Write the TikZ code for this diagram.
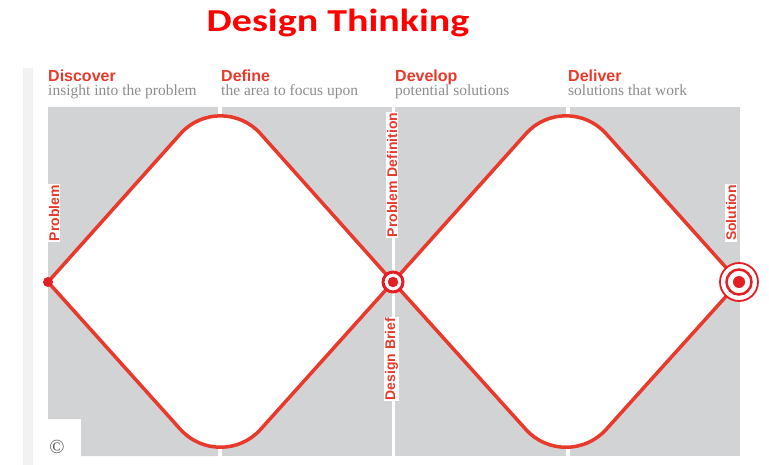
\documentclass[tikz,border=0pt]{standalone}
\usepackage{fontspec}
\setmainfont{Liberation Serif}
\setsansfont{Liberation Sans}
\newfontfamily\titlefont{Carlito}
\usetikzlibrary{calc}
\definecolor{dtred}{HTML}{E8392B}
\definecolor{dotred}{HTML}{E31E24}
\definecolor{panelgray}{HTML}{D1D3D4}
\definecolor{subgray}{HTML}{8C8C8C}
\definecolor{stripgray}{HTML}{F2F2F2}
\definecolor{copygray}{HTML}{555555}
\begin{document}
\begin{tikzpicture}[x=1pt,y=-1pt,
  panel/.style={fill=panelgray, draw=none},
  diam/.style={draw=dtred, line width=3.5pt, fill=white, line join=miter},
  phase/.style={anchor=base west, inner sep=0pt, text depth=0pt, text=dtred, font=\sffamily\bfseries\fontsize{16}{16}\selectfont},
  sub/.style={anchor=base west, inner sep=0pt, text height=10pt, text=subgray, font=\fontsize{15.5}{15.5}\selectfont},
  vlabel/.style={rotate=90, fill=white, text=dtred, inner sep=1.2pt, font=\sffamily\bfseries\fontsize{14}{14}\selectfont},
  dotnode/.style={circle, fill=dotred, inner sep=0pt, draw=none},
  ringnode/.style={circle, draw=dotred, fill=white, inner sep=0pt},
]
\useasboundingbox (0,0) rectangle (769,465);
% background strip and panels
\fill[stripgray] (23,68) rectangle (33,465);
\fill[panel] (48,107) -- (218,107) -- (218,456) -- (81,456) -- (81,419) -- (48,419) -- cycle;
\fill[panel] (222,107) rectangle (391.5,456);
\fill[panel] (394.5,107) rectangle (565.5,456);
\fill[panel] (569.5,107) rectangle (740,456);
% diamond corners
\coordinate (L1) at (48,282);
\coordinate (T1) at (220.5,89);
\coordinate (R1) at (393,282);
\coordinate (B1) at (220.5,474);
\coordinate (T2) at (566,89);
\coordinate (R2) at (739,282);
\coordinate (B2) at (566,474);
\draw[diam] (L1) -- ($(T1)!60pt!(L1)$) .. controls ($(T1)!28pt!(L1)$) and ($(T1)!28pt!(R1)$) .. ($(T1)!60pt!(R1)$) -- (R1)
  -- ($(B1)!60pt!(R1)$) .. controls ($(B1)!28pt!(R1)$) and ($(B1)!28pt!(L1)$) .. ($(B1)!60pt!(L1)$) -- cycle;
\draw[diam] (R1) -- ($(T2)!60pt!(R1)$) .. controls ($(T2)!28pt!(R1)$) and ($(T2)!28pt!(R2)$) .. ($(T2)!60pt!(R2)$) -- (R2)
  -- ($(B2)!60pt!(R2)$) .. controls ($(B2)!28pt!(R2)$) and ($(B2)!28pt!(R1)$) .. ($(B2)!60pt!(R1)$) -- cycle;
% markers
\node[dotnode, minimum size=10pt] (start) at (L1) {};
\node[ringnode, line width=3pt, minimum size=20pt] (midring) at (R1) {};
\node[dotnode, minimum size=10.5pt] (middot) at (R1) {};
\node[ringnode, line width=1.8pt, minimum size=38pt] (endouter) at (R2) {};
\node[ringnode, line width=2.5pt, minimum size=25pt] (endinner) at (R2) {};
\node[dotnode, minimum size=12pt] (enddot) at (R2) {};
% vertical labels
\node[vlabel] (problem) at (54,213) {Problem};
\node[vlabel] (probdef) at (392,175) {Problem Definition};
\node[vlabel] (brief) at (391.5,359) {Design Brief};
\node[vlabel] (solution) at (731,213) {Solution};
% headings
\node[phase] (discover) at (48,82) {Discover};
\node[phase] (define) at (221,82) {Define};
\node[phase] (develop) at (395,82) {Develop};
\node[phase] (deliver) at (568,82) {Deliver};
\node[sub] (s1) at (48,95.5) {insight into the problem};
\node[sub] (s2) at (221,95.5) {the area to focus upon};
\node[sub] (s3) at (395,95.5) {potential solutions};
\node[sub] (s4) at (568,95.5) {solutions that work};
% copyright
\node[text=copygray, font=\fontsize{20}{20}\selectfont, inner sep=0pt] (copy) at (57,447) {©};
% title
\node[anchor=base, inner sep=0pt, text=red, font=\titlefont\bfseries\fontsize{32}{32}\selectfont] (title) at (338,32) {\scalebox{1.25}[1]{Design Thinking}};
\end{tikzpicture}
\end{document}
